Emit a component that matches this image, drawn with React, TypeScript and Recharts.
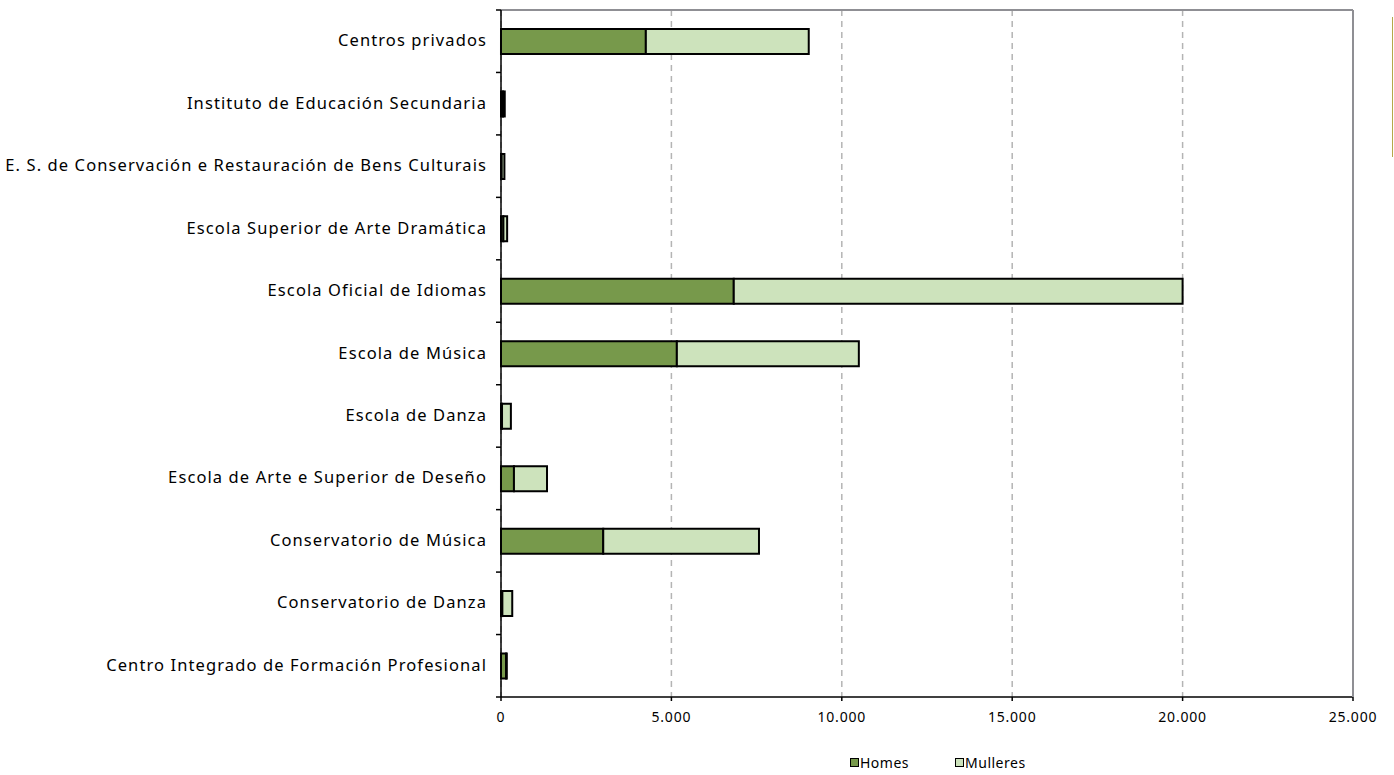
import React from "react"
import { BarChart, Bar, XAxis, YAxis, CartesianGrid } from "recharts"

const categories = [
  "Centros privados",
  "Instituto de Educación Secundaria",
  "E. S. de Conservación e Restauración de Bens Culturais",
  "Escola Superior de Arte Dramática",
  "Escola Oficial de Idiomas",
  "Escola de Música",
  "Escola de Danza",
  "Escola de Arte e Superior de Deseño",
  "Conservatorio de Música",
  "Conservatorio de Danza",
  "Centro Integrado de Formación Profesional",
]
const homes = [4250, 60, 20, 70, 6830, 5160, 30, 380, 3000, 40, 150]
const mulleres = [4780, 50, 80, 110, 13170, 5340, 260, 970, 4570, 290, 20]
const xTicks = [0, 5000, 10000, 15000, 20000, 25000]

const data = categories.map((name, i) => ({ name, homes: homes[i], mulleres: mulleres[i] }))

const W = 1394
const H = 775
const TOP = 9
const BOTTOM = 78
const BAND = (H - TOP - 1 - BOTTOM) / categories.length
const FONT = "'Noto Sans', sans-serif"
const DARK = "#77994b"
const LIGHT = "#cde3bc"

const fmt = (v: number) => v.toLocaleString("de-DE")

function CatTick(props: any) {
  const { x, y, payload, index } = props
  const last = index === categories.length - 1
  return (
    <g>
      <line x1={x - 5} x2={x} y1={y - BAND / 2} y2={y - BAND / 2} stroke="#000" strokeWidth={1.5} />
      {last && <line x1={x - 5} x2={x} y1={y + BAND / 2} y2={y + BAND / 2} stroke="#000" strokeWidth={1.5} />}
      <text x={x - 14} y={y} dy={5} textAnchor="end" fontSize={16.5} fontFamily={FONT} fill="#000" letterSpacing={1.1}>
        {payload.value}
      </text>
    </g>
  )
}

export default function App() {
  return (
    <div style={{ position: "absolute", left: 0, top: 0, width: W, height: H, background: "#fff" }}>
      <BarChart
        width={W}
        height={H}
        data={data}
        layout="vertical"
        margin={{ top: TOP, right: 40, left: 0, bottom: BOTTOM - 30 }}
      >
        <CartesianGrid horizontal={false} stroke="#b4b4b4" strokeDasharray="6 5" strokeWidth={1.5} />
        <XAxis
          type="number"
          domain={[0, 25000]}
          ticks={xTicks}
          tickFormatter={fmt}
          height={30}
          axisLine={{ stroke: "#000", strokeWidth: 1.5 }}
          tickLine={{ stroke: "#000", strokeWidth: 1.5 }}
          tickSize={4}
          tickMargin={11}
          tick={{ fontSize: 14, fill: "#000", fontFamily: FONT, letterSpacing: 0.8 }}
        />
        <XAxis
          xAxisId="top"
          orientation="top"
          type="number"
          domain={[0, 25000]}
          height={1}
          tickFormatter={() => ""}
          tickLine={false}
          axisLine={{ stroke: "#8f8f94", strokeWidth: 2 }}
        />
        <YAxis
          type="category"
          dataKey="name"
          width={501}
          axisLine={{ stroke: "#000", strokeWidth: 1.5 }}
          tickLine={false}
          tickSize={0}
          tickMargin={0}
          tick={<CatTick />}
          interval={0}
        />
        <YAxis
          yAxisId="right"
          orientation="right"
          type="category"
          dataKey="name"
          width={1}
          tickFormatter={() => ""}
          tickLine={false}
          axisLine={{ stroke: "#8f8f94", strokeWidth: 2 }}
        />
        <Bar dataKey="homes" stackId="a" fill={DARK} stroke="#000" strokeWidth={2} barSize={25} isAnimationActive={false} />
        <Bar dataKey="mulleres" stackId="a" fill={LIGHT} stroke="#000" strokeWidth={2} barSize={25} isAnimationActive={false} />
      </BarChart>
      <div
        style={{
          position: "absolute",
          top: 753,
          left: 850,
          display: "flex",
          gap: 46,
          fontFamily: FONT,
          fontSize: 14,
          letterSpacing: 0.5,
          color: "#000",
        }}
      >
        <span style={{ display: "flex", alignItems: "center" }}>
          <span style={{ width: 7, height: 7, background: DARK, border: "1px solid #000", marginRight: 1 }} />
          Homes
        </span>
        <span style={{ display: "flex", alignItems: "center" }}>
          <span style={{ width: 7, height: 7, background: LIGHT, border: "1px solid #000", marginRight: 1 }} />
          Mulleres
        </span>
      </div>
      <div style={{ position: "absolute", left: 1392, top: 17, width: 1, height: 140, background: "#b5a84a" }} />
    </div>
  )
}
